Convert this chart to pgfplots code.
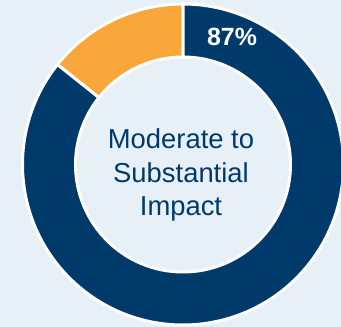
\documentclass[border=0pt]{standalone}
\usepackage{pgfplots}
\pgfplotsset{compat=1.18}
\usepackage{pgfplotstable}
\usepackage{fontspec}
\setmainfont{Liberation Sans}
\definecolor{bgc}{HTML}{E7EFF7}
\definecolor{navy}{HTML}{003A6B}
\definecolor{orng}{HTML}{F9A73A}
\pgfplotstableread{
label value
Moderate 85.7
Other 14.3
}\donutdata
\begin{document}
\begin{tikzpicture}
\pgfplotstablegetelem{0}{value}\of\donutdata \let\va\pgfplotsretval
\pgfplotstablegetelem{1}{value}\of\donutdata \let\vb\pgfplotsretval
\pgfmathsetmacro{\aa}{90}
\pgfmathsetmacro{\ab}{90+3.6*\vb}
\pgfmathsetmacro{\ac}{\ab+3.6*\va}
\def\cx{183}\def\cy{162.5}\def\Ro{160.5}\def\Ri{107.5}
\begin{axis}[hide axis, x=1bp, y=1bp, xmin=0, xmax=341, ymin=0, ymax=327,
  scale only axis, clip=true]
\fill[bgc] (axis cs:0,0) rectangle (axis cs:341,327);
% orange wedge
\fill[orng, draw=white, line width=3bp]
  (axis cs:{\cx+\Ro*cos(\aa)},{\cy+\Ro*sin(\aa)}) arc[start angle=\aa, end angle=\ab, radius=\Ro bp]
  -- (axis cs:{\cx+\Ri*cos(\ab)},{\cy+\Ri*sin(\ab)}) arc[start angle=\ab, end angle=\aa, radius=\Ri bp] -- cycle;
% navy wedge
\fill[navy, draw=white, line width=3bp]
  (axis cs:{\cx+\Ro*cos(\ab)},{\cy+\Ro*sin(\ab)}) arc[start angle=\ab, end angle=\ac, radius=\Ro bp]
  -- (axis cs:{\cx+\Ri*cos(\ac)},{\cy+\Ri*sin(\ac)}) arc[start angle=\ac, end angle=\ab, radius=\Ri bp] -- cycle;
\node[anchor=base, text=white, font=\fontsize{25}{30}\selectfont\bfseries] at (axis cs:232,282) {87\%};
\node[anchor=base, text=navy, font=\fontsize{27.5}{32}\selectfont] at (axis cs:181,179) {Moderate to};
\node[anchor=base, text=navy, font=\fontsize{27.5}{32}\selectfont] at (axis cs:181,145) {Substantial};
\node[anchor=base, text=navy, font=\fontsize{27.5}{32}\selectfont] at (axis cs:181,112) {Impact};
\end{axis}
\end{tikzpicture}
\end{document}
